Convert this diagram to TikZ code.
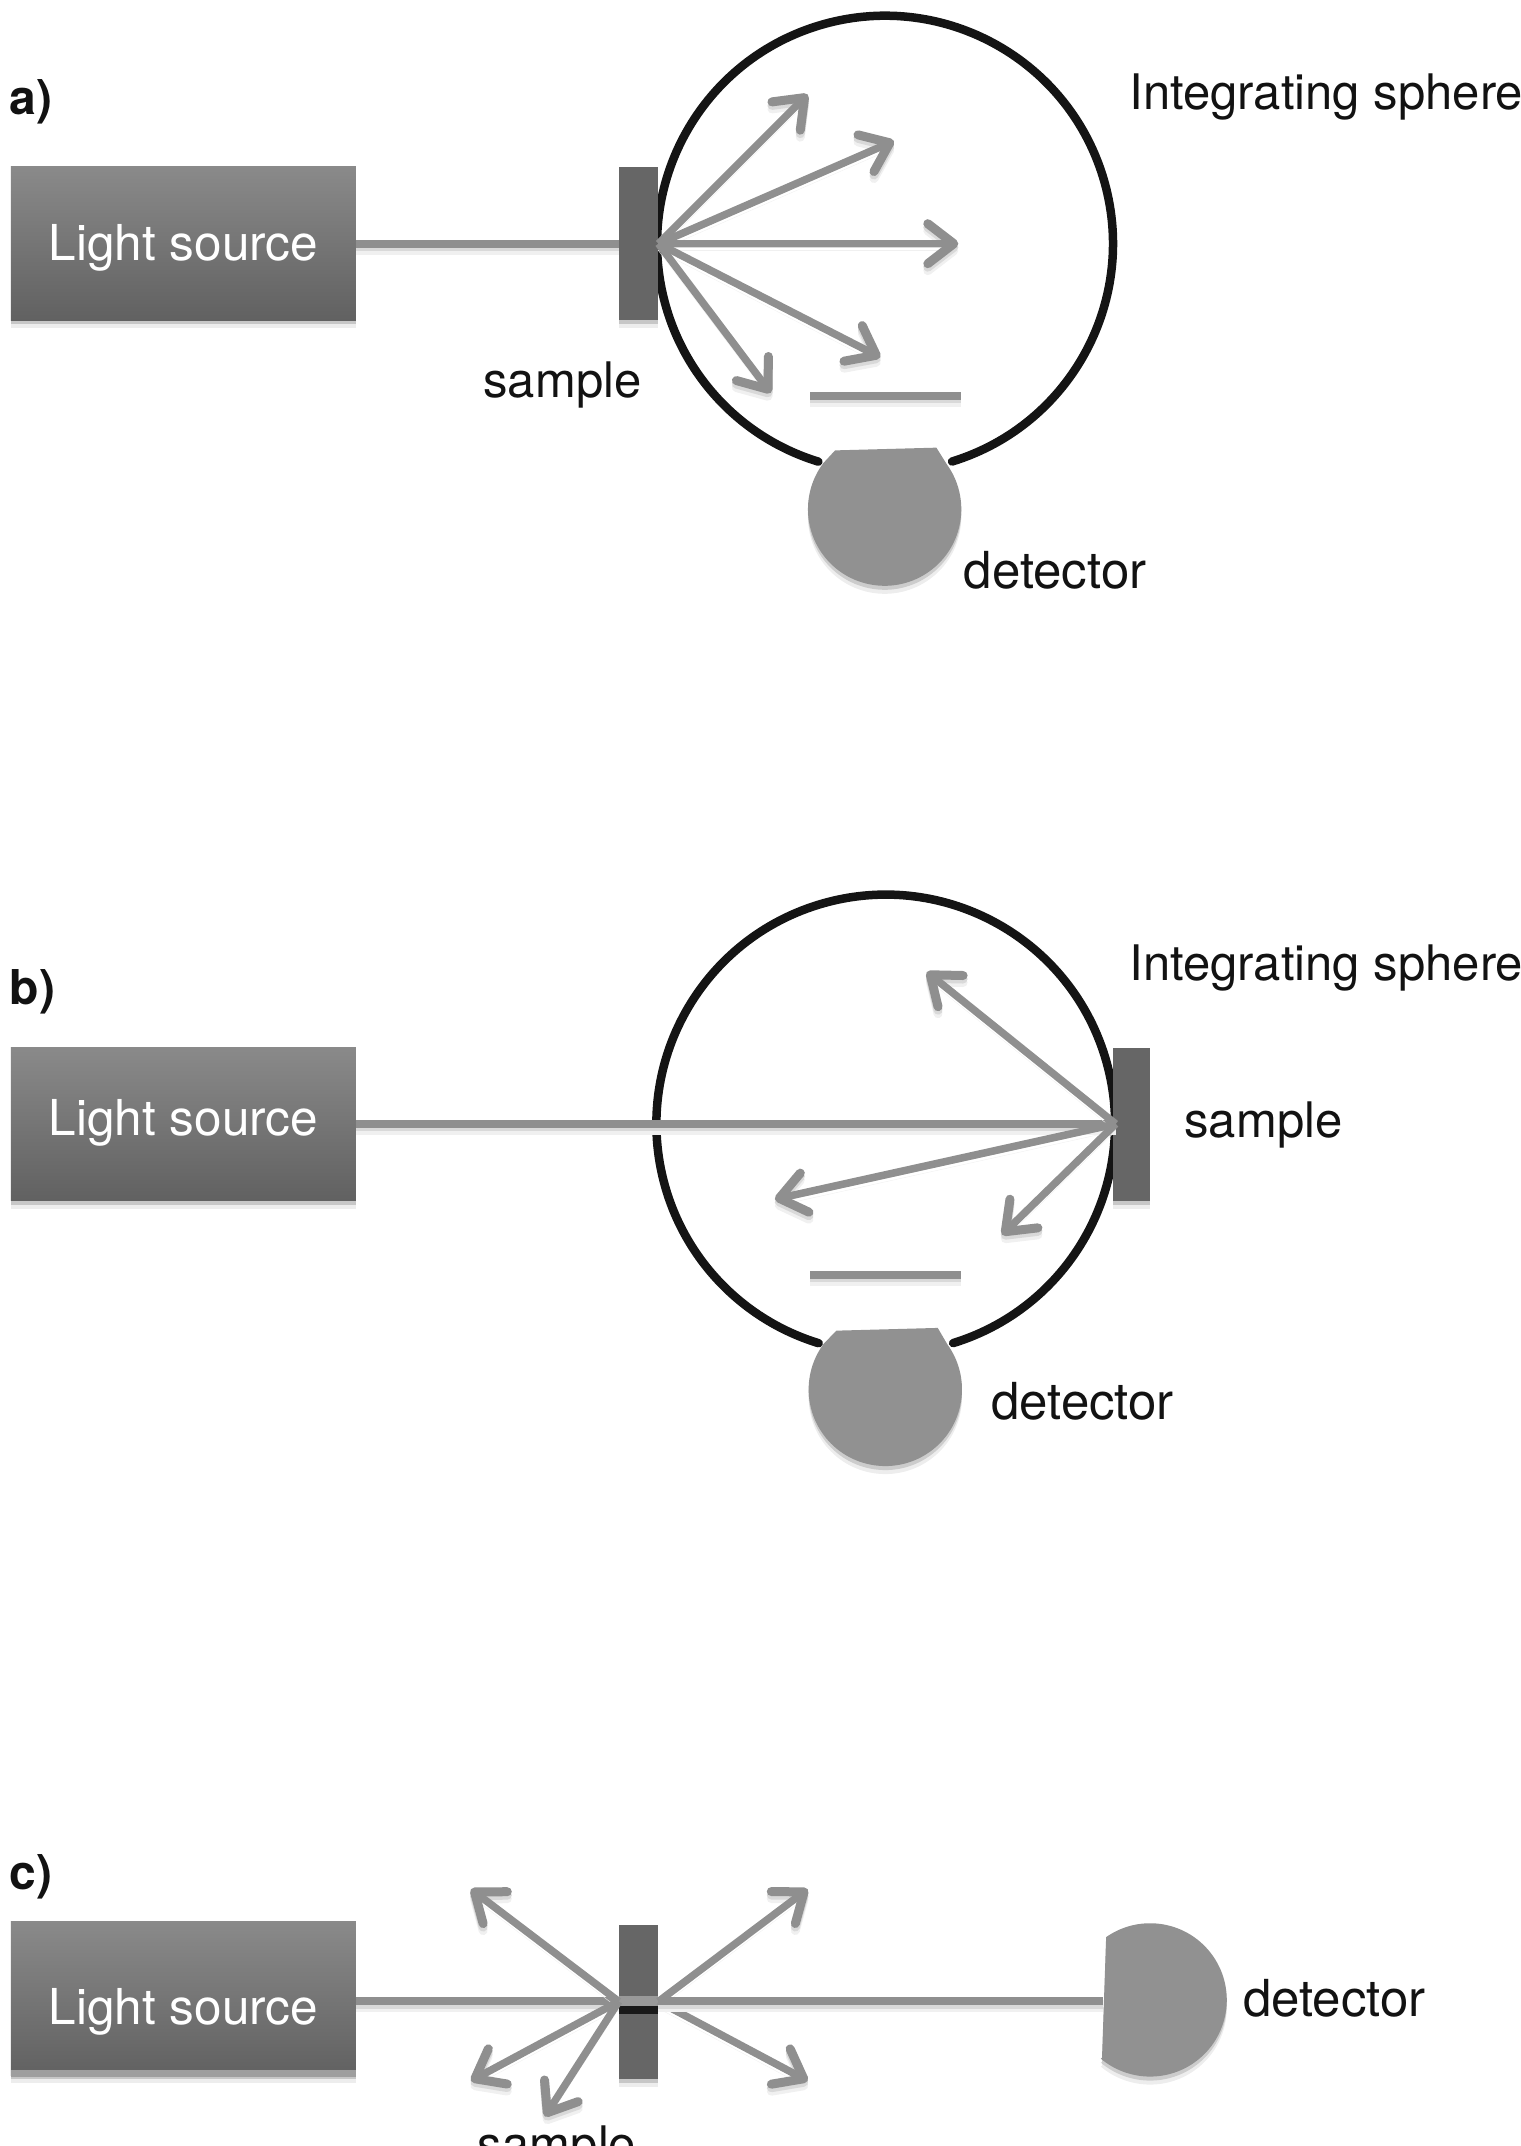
\documentclass[tikz,border=0pt]{standalone}
\usepackage{fontspec}
\setmainfont{TeX Gyre Heros}
\usetikzlibrary{arrows.meta,shadows,calc}
\definecolor{raygray}{gray}{0.56}
\definecolor{detgray}{gray}{0.57}
\definecolor{samplegray}{gray}{0.40}
\definecolor{ink}{gray}{0.07}
\tikzset{
  softshadow/.style={drop shadow={shadow xshift=0pt,shadow yshift=-8pt,fill=black,opacity=.07},
                     drop shadow={shadow xshift=0pt,shadow yshift=-4pt,fill=black,opacity=.16}},
  lightbox/.style={rectangle,minimum width=345pt,minimum height=153.5pt,inner sep=0pt,
    top color=black!46,bottom color=black!62,middle color=black!54,text=white,softshadow,
    font=\fontsize{49.5}{59}\selectfont},
  samplebox/.style={rectangle,minimum width=39pt,minimum height=153.5pt,inner sep=0pt,fill=samplegray,softshadow},
  lbl/.style={anchor=base west,inner sep=0pt,text=ink,font=\fontsize{49}{59}\selectfont},
  detlbl/.style={anchor=base west,inner sep=0pt,text=ink,font=\fontsize{51}{61}\selectfont},
  panel/.style={anchor=base west,inner sep=0pt,text=ink,font=\bfseries\fontsize{48}{58}\selectfont},
  sphereline/.style={draw=black!92,line width=8.5pt,line cap=round},
  beam/.style={draw=raygray,line width=8pt,
    preaction={draw=black!6,line width=8pt,transform canvas={yshift=-7pt}},
    preaction={draw=black!15,line width=8pt,transform canvas={yshift=-3.5pt}}},
  ray/.style={draw=raygray,line width=7.5pt,-{Straight Barb[length=26pt,width=40pt,line width=9pt,round]},
    preaction={draw=black!6,transform canvas={yshift=-7pt}},
    preaction={draw=black!15,transform canvas={yshift=-3.5pt}}},
  detshape/.style={fill=detgray,draw=none,drop shadow={shadow xshift=0pt,shadow yshift=-8pt,fill=black,opacity=.07},
    drop shadow={shadow xshift=0pt,shadow yshift=-4pt,fill=black,opacity=.14}},
}
\newcommand{\srctext}[1]{\raisebox{#1}[0pt][0pt]{Light source}}
\begin{document}
\begin{tikzpicture}[x=1.369pt,y=-1.369pt]
\useasboundingbox (0,0) rectangle (1111,1567.6);
% ---------- a
\node[panel] (la) at (7,84) {a)};
\coordinate (ca) at (646.5,178);
\draw[sphereline] ($(ca)+(72.9:166.5)$) arc[start angle=72.9,end angle=-253,radius=166.5];
\node[lightbox] (srcA) at (134,178) {\srctext{-17.2pt}};
\node[samplebox] (smpA) at (466.5,178) {};
\draw[beam] (srcA.east) -- (smpA.west);
\coordinate (oa) at (481,178);
\coordinate (a1) at (590,69);
\coordinate (a2) at (653,103);
\coordinate (a3) at (700,178);
\coordinate (a4) at (643,261);
\coordinate (a5) at (563,287);
\foreach \t in {a1,a2,a3,a4,a5} \draw[ray] (oa) -- (\t);
\coordinate (ba1) at (592,289);
\coordinate (ba2) at (702,289);
\draw[beam] (ba1) -- (ba2);
\filldraw[detshape] (610,329) -- (684,327) -- (691.5,339) arc[start angle=-36,end angle=217,radius=56] -- cycle;
\node[lbl] (isA) at (825,80) {Integrating sphere};
\node[lbl] (sA) at (353,290) {sample};
\node[detlbl] (dA) at (704,430) {detector};
% ---------- b
\node[panel] (lb) at (7,734) {b)};
\coordinate (cb) at (647,821);
\draw[sphereline] ($(cb)+(72.9:167.5)$) arc[start angle=72.9,end angle=-253,radius=167.5];
\node[lightbox] (srcB) at (134,821) {\srctext{-12pt}};
\node[samplebox,minimum width=37pt] (smpB) at (826.5,821.5) {};
\coordinate (ob) at (815,821);
\draw[beam] (srcB.east) -- (ob);
\coordinate (b1) at (677,710);
\coordinate (b2) at (566,876);
\coordinate (b3) at (732,902);
\foreach \t in {b1,b2,b3} \draw[ray] (ob) -- (\t);
\coordinate (bb1) at (592,931);
\coordinate (bb2) at (702,931);
\draw[beam] (bb1) -- (bb2);
\filldraw[detshape] (611,972) -- (685,970) -- (692,982) arc[start angle=-36,end angle=217,radius=56] -- cycle;
\node[lbl] (isB) at (825,716) {Integrating sphere};
\node[lbl] (sB) at (865,831) {sample};
\node[detlbl] (dB) at (724,1037) {detector};
% ---------- c
\node[panel] (lc) at (7,1380) {c)};
\node[lightbox] (srcC) at (134,1460) {\srctext{-25.5pt}};
\fill[black!38] (8,1512) rectangle (260,1517);
\node[samplebox] (smpC) at (466.5,1462.5) {};
\fill[black!40] (452,1458) rectangle (481,1465);
\fill[black!90] (452,1465) rectangle (481,1471);
\coordinate (ocl) at (452,1462);
\coordinate (ocr) at (481,1462);
\draw[beam] (srcC.east |- ocl) -- (ocl);
\coordinate (c1) at (344,1380);
\coordinate (c2) at (344,1520);
\coordinate (c3) at (398,1546);
\coordinate (c4) at (590,1380);
\coordinate (c5) at (590,1520);
\foreach \t in {c1,c2,c3} \draw[ray] (ocl) -- (\t);
\foreach \t in {c4,c5} \draw[ray] (ocr) -- (\t);
\coordinate (dc) at (806,1462);
\draw[beam] (ocr) -- (dc);
\filldraw[detshape] (805,1503) -- (808,1415) arc[start angle=-125,end angle=130,radius=56] -- cycle;
\node[detlbl] (dC) at (908,1473) {detector};
\node[lbl] (sC) at (349,1579) {sample};
\end{tikzpicture}
\end{document}
